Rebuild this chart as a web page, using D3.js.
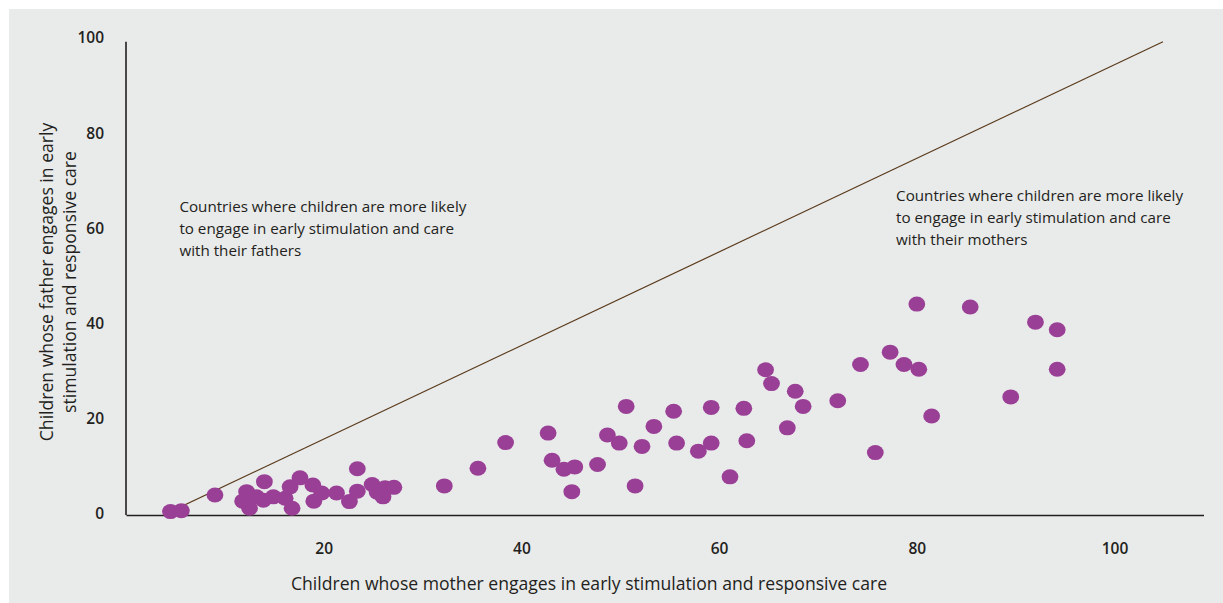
<!DOCTYPE html>
<html><head><meta charset="utf-8">
<script src="https://cdn.jsdelivr.net/npm/d3@7"></script>
<style>
body{margin:0;background:#fff;}
text{font-family:"Open Sans",sans-serif;fill:#231f20;}
</style>
</head><body>
<svg id="c" width="1223" height="603"></svg>
<script>
// Share of children whose mother / father engages in early stimulation and responsive care (%)
const motherValues = [4.5,5.6,9.0,11.8,12.2,12.5,13.2,13.9,14.0,14.9,16.1,16.6,16.8,17.6,18.9,19.0,19.8,21.3,22.6,23.4,23.4,24.9,25.4,26.2,26.0,27.1,
  32.2,35.6,38.4,42.7,43.1,44.3,45.4,45.1,47.7,48.7,49.9,50.6,51.5,52.2,53.4,55.4,55.7,57.9,59.2,59.2,61.1,62.5,62.8,64.7,65.3,66.9,67.7,68.5,
  72.0,74.3,75.8,77.3,78.7,80.0,80.2,81.5,85.4,89.5,92.0,94.2,94.2];
const fatherValues = [0.5,0.7,4.0,2.7,4.7,1.2,3.6,2.9,6.8,3.6,3.3,5.7,1.2,7.6,6.1,2.7,4.4,4.4,2.6,9.5,4.8,6.2,4.6,5.5,3.6,5.6,
  5.9,9.6,15.0,17.0,11.3,9.4,9.9,4.7,10.4,16.6,14.9,22.6,5.9,14.2,18.4,21.6,14.9,13.2,14.9,22.4,7.8,22.2,15.4,30.3,27.4,18.1,25.8,22.6,
  23.8,31.4,12.9,34.0,31.4,44.1,30.4,20.6,43.5,24.6,40.3,38.7,30.4];
const xTicks = [20,40,60,80,100];
const yTicks = [0,20,40,60,80,100];
const parityLine = [[4.0,0],[104.9,99.2]];
const xTitle = "Children whose mother engages in early stimulation and responsive care";
const yTitleLines = ["Children whose father engages in early","stimulation and responsive care"];
const fatherNote = ["Countries where children are more likely","to engage in early stimulation and care","with their fathers"];
const motherNote = ["Countries where children are more likely","to engage in early stimulation and care","with their mothers"];
const fatherNoteAt = [5.4, 64.4];
const motherNoteAt = [77.9, 66.8];

const svg = d3.select("#c");
svg.append("rect").attr("x",9).attr("y",9).attr("width",1214).attr("height",594).attr("fill","#e9eaea");

const x = d3.scaleLinear().domain([0,109]).range([126,1203.5]);
const y = d3.scaleLinear().domain([0,100]).range([514,38]);

// axes
const gx = svg.append("g").attr("transform","translate(0,515)")
  .call(d3.axisBottom(x).tickValues(xTicks).tickSize(0).tickPadding(28).tickSizeOuter(0));
const gy = svg.append("g").attr("transform","translate(126,0)")
  .call(d3.axisLeft(y).tickValues(yTicks).tickSize(0).tickPadding(22).tickSizeOuter(0));
[gx,gy].forEach(g=>{
  g.select(".domain").attr("stroke","#231f20").attr("stroke-width",1.6);
  g.selectAll("text").attr("font-family","'Open Sans',sans-serif").attr("font-size",15.5)
    .attr("font-weight",600).attr("fill","#231f20");
});
gy.select(".domain").attr("d",`M0,${y(99.2)}V515`);

// parity line
svg.append("line")
  .attr("x1",x(parityLine[0][0])).attr("y1",y(parityLine[0][1]))
  .attr("x2",x(parityLine[1][0])).attr("y2",y(parityLine[1][1]))
  .attr("stroke","#5a3b1c").attr("stroke-width",1.2);

// dots
svg.append("g").selectAll("ellipse").data(motherValues.map((m,i)=>[m,fatherValues[i]]))
  .join("ellipse")
  .attr("cx",d=>x(d[0])).attr("cy",d=>y(d[1]))
  .attr("rx",8.4).attr("ry",7.5)
  .attr("fill","#9a3f96");

// titles
svg.append("text").attr("x",589).attr("y",590).attr("text-anchor","middle")
  .attr("font-size",17.6).text(xTitle);
const yt = svg.append("text").attr("transform","translate(53,282) rotate(-90)")
  .attr("text-anchor","middle").attr("font-size",17.6);
yTitleLines.forEach((t,i)=>yt.append("tspan").attr("x",0).attr("dy",i?23:0).text(t));

function note(lines, at){
  const t = svg.append("text").attr("x",x(at[0])).attr("y",y(at[1])+5).attr("font-size",15.2);
  lines.forEach((l,i)=>t.append("tspan").attr("x",x(at[0])).attr("dy",i?21.8:0).text(l));
}
note(fatherNote, fatherNoteAt);
note(motherNote, motherNoteAt);
</script>
</body></html>
